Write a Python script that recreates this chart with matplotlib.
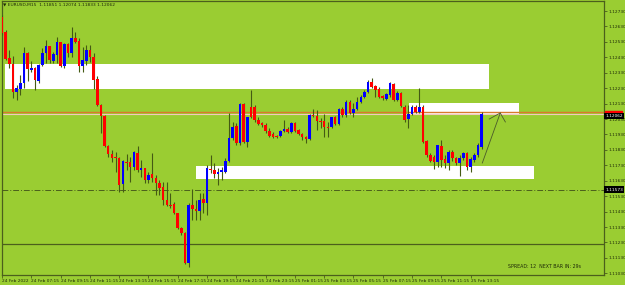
import matplotlib
matplotlib.use('Agg')
import matplotlib.pyplot as plt
import numpy as np

# EURUSD M15, 24-25 Feb 2022, bar 0 = 24 Feb 05:15
opens = [1.12691, 1.12594, 1.12425, 1.12387, 1.12205, 1.12225, 1.12263, 1.12458, 1.12348, 1.12361,
         1.12276, 1.12380, 1.12458, 1.12503, 1.12406, 1.12445, 1.12529, 1.12374, 1.12516, 1.12458,
         1.12555, 1.12536, 1.12374, 1.12406, 1.12477, 1.12432, 1.12289, 1.12121, 1.12050, 1.11855,
         1.11803, 1.11784, 1.11777, 1.11609, 1.11752, 1.11752, 1.11719, 1.11810, 1.11700, 1.11713,
         1.11635, 1.11674, 1.11648, 1.11615, 1.11590, 1.11505, 1.11473, 1.11479, 1.11421, 1.11324,
         1.11292, 1.11097, 1.11473, 1.11447, 1.11434, 1.11512, 1.11486, 1.11706, 1.11700, 1.11674,
         1.11687, 1.11687, 1.11758, 1.11907, 1.11985, 1.11875, 1.12127, 1.11881, 1.12108, 1.12108,
         1.12024, 1.12004, 1.11991, 1.11952, 1.11933, 1.11920, 1.11920, 1.11952, 1.11965, 1.11946,
         1.12004, 1.11959, 1.11933, 1.11913, 1.11901, 1.12056, 1.12050, 1.12017, 1.12017, 1.11978,
         1.11978, 1.12043, 1.11998, 1.12095, 1.12056, 1.12140, 1.12069, 1.12095, 1.12140, 1.12173,
         1.12205, 1.12270, 1.12244, 1.12225, 1.12179, 1.12160, 1.12186, 1.12257, 1.12153, 1.12199,
         1.12108, 1.12030, 1.12062, 1.12108, 1.12075, 1.12108, 1.11888, 1.11797, 1.11784, 1.11752,
         1.11855, 1.11771, 1.11745, 1.11816, 1.11777, 1.11745, 1.11777, 1.11810, 1.11719, 1.11764,
         1.11797, 1.11851]
highs = [1.12704, 1.12607, 1.12477, 1.12438, 1.12250, 1.12315, 1.12497, 1.12464, 1.12406, 1.12367,
         1.12387, 1.12490, 1.12542, 1.12503, 1.12464, 1.12562, 1.12529, 1.12523, 1.12523, 1.12626,
         1.12594, 1.12555, 1.12497, 1.12510, 1.12510, 1.12458, 1.12309, 1.12127, 1.12056, 1.11862,
         1.11829, 1.11816, 1.11784, 1.11764, 1.11803, 1.11784, 1.11823, 1.11855, 1.11764, 1.11713,
         1.11687, 1.11810, 1.11667, 1.11635, 1.11622, 1.11622, 1.11551, 1.11492, 1.11421, 1.11330,
         1.11298, 1.11486, 1.11577, 1.11505, 1.11551, 1.11551, 1.11732, 1.11797, 1.11745, 1.11713,
         1.11719, 1.11777, 1.12069, 1.12011, 1.12004, 1.12134, 1.12134, 1.12043, 1.12218, 1.12121,
         1.12043, 1.12011, 1.12004, 1.11972, 1.11946, 1.11926, 1.11959, 1.12024, 1.11978, 1.12011,
         1.12011, 1.11965, 1.11939, 1.11920, 1.12062, 1.12095, 1.12088, 1.12037, 1.12062, 1.12011,
         1.12043, 1.12050, 1.12101, 1.12108, 1.12153, 1.12153, 1.12134, 1.12173, 1.12186, 1.12218,
         1.12283, 1.12296, 1.12250, 1.12238, 1.12186, 1.12199, 1.12270, 1.12263, 1.12212, 1.12205,
         1.12121, 1.12121, 1.12121, 1.12121, 1.12231, 1.12121, 1.11894, 1.11810, 1.11797, 1.11862,
         1.11894, 1.11797, 1.11829, 1.11829, 1.11784, 1.11797, 1.11816, 1.11816, 1.11784, 1.11810,
         1.11875, 1.12074]
lows = [1.12574, 1.12412, 1.12361, 1.12166, 1.12153, 1.12186, 1.12231, 1.12276, 1.12335, 1.12218,
        1.12263, 1.12374, 1.12393, 1.12393, 1.12393, 1.12393, 1.12367, 1.12361, 1.12432, 1.12432,
        1.12523, 1.12335, 1.12335, 1.12380, 1.12400, 1.12225, 1.12114, 1.11939, 1.11849, 1.11784,
        1.11752, 1.11687, 1.11557, 1.11557, 1.11700, 1.11622, 1.11700, 1.11687, 1.11654, 1.11615,
        1.11615, 1.11622, 1.11538, 1.11538, 1.11473, 1.11466, 1.11453, 1.11415, 1.11317, 1.11278,
        1.11091, 1.11071, 1.11376, 1.11376, 1.11376, 1.11421, 1.11408, 1.11680, 1.11648, 1.11602,
        1.11635, 1.11680, 1.11752, 1.11894, 1.11862, 1.11862, 1.11875, 1.11849, 1.12037, 1.12011,
        1.11991, 1.11978, 1.11939, 1.11913, 1.11907, 1.11907, 1.11913, 1.11946, 1.11939, 1.11939,
        1.11946, 1.11926, 1.11894, 1.11875, 1.11894, 1.12043, 1.11959, 1.11972, 1.11913, 1.11913,
        1.11972, 1.11991, 1.11991, 1.12043, 1.12043, 1.12062, 1.12043, 1.12088, 1.12134, 1.12166,
        1.12199, 1.12231, 1.12173, 1.12166, 1.12153, 1.12153, 1.12173, 1.12147, 1.12147, 1.12108,
        1.12011, 1.11972, 1.12056, 1.12069, 1.12069, 1.11875, 1.11784, 1.11752, 1.11706, 1.11719,
        1.11719, 1.11713, 1.11700, 1.11758, 1.11732, 1.11661, 1.11764, 1.11700, 1.11687, 1.11752,
        1.11784, 1.11833]
closes = [1.12587, 1.12419, 1.12387, 1.12205, 1.12231, 1.12263, 1.12458, 1.12354, 1.12361, 1.12283,
          1.12380, 1.12458, 1.12503, 1.12412, 1.12451, 1.12529, 1.12374, 1.12516, 1.12458, 1.12555,
          1.12529, 1.12374, 1.12412, 1.12477, 1.12432, 1.12283, 1.12121, 1.12050, 1.11855, 1.11803,
          1.11777, 1.11777, 1.11602, 1.11758, 1.11745, 1.11719, 1.11816, 1.11700, 1.11713, 1.11635,
          1.11667, 1.11648, 1.11615, 1.11583, 1.11505, 1.11473, 1.11466, 1.11421, 1.11324, 1.11292,
          1.11097, 1.11473, 1.11447, 1.11434, 1.11505, 1.11486, 1.11713, 1.11700, 1.11674, 1.11687,
          1.11700, 1.11758, 1.11907, 1.11978, 1.11875, 1.12127, 1.11881, 1.12043, 1.12043, 1.12024,
          1.11998, 1.11991, 1.11952, 1.11920, 1.11913, 1.11913, 1.11952, 1.11965, 1.11946, 1.12004,
          1.11952, 1.11933, 1.11913, 1.11901, 1.12056, 1.12050, 1.12017, 1.12011, 1.11978, 1.11972,
          1.12043, 1.11998, 1.12095, 1.12056, 1.12140, 1.12069, 1.12095, 1.12140, 1.12173, 1.12205,
          1.12270, 1.12238, 1.12218, 1.12173, 1.12166, 1.12192, 1.12263, 1.12153, 1.12199, 1.12114,
          1.12024, 1.12062, 1.12108, 1.12075, 1.12108, 1.11881, 1.11797, 1.11758, 1.11752, 1.11862,
          1.11764, 1.11745, 1.11816, 1.11777, 1.11745, 1.11777, 1.11810, 1.11719, 1.11771, 1.11797,
          1.11862, 1.12062]

xlabels = ['24 Feb 2022', '24 Feb 07:15', '24 Feb 09:15', '24 Feb 11:15', '24 Feb 13:15',
           '24 Feb 15:15', '24 Feb 17:15', '24 Feb 19:15', '24 Feb 21:15', '24 Feb 23:15',
           '25 Feb 01:15', '25 Feb 03:15', '25 Feb 05:15', '25 Feb 07:15', '25 Feb 09:15',
           '25 Feb 11:15', '25 Feb 13:15']
xlabel_bars = list(range(0, 129, 8))
yticks = [1.11030 + 0.001 * k for k in range(18)]

# supply / demand zones: (bar from, bar to, price low, price high)
zones = [(0.9, 133.1, 1.12225, 1.12387),
         (111.3, 141.3, 1.12060, 1.12134),
         (53.1, 145.2, 1.11641, 1.11727)]
ask_price = 1.12074
bid_price = 1.12062
level_dashdot = 1.11573
level_solid = 1.11220
arrow_x = [131.2, 136.1]
arrow_y = [1.11745, 1.12069]
wing_x = [133.1, 136.1, 137.5]
wing_y = [1.12030, 1.12069, 1.12011]

bg = '#9acd32'
dark = '#4b5f1c'

fig = plt.figure(figsize=(6.25, 2.85), dpi=100)
fig.patch.set_facecolor(bg)
ax = fig.add_axes([1.7 / 625, 10 / 285, 602.5 / 625, 274 / 285])
ax.set_facecolor(bg)

x = np.arange(len(opens))
o = np.array(opens)
h = np.array(highs)
l = np.array(lows)
c = np.array(closes)
up = c >= o

for x0, x1, lo, hi in zones:
    ax.fill_between([x0, x1], [lo, lo], [hi, hi], color='white', lw=0, zorder=1)

ax.axhline(ask_price, color='#d97a2b', lw=1.0, zorder=2)
ax.axhline(bid_price, color='#f3c9c0', lw=0.8, zorder=2)
ax.axhline(level_dashdot, color=dark, lw=0.7, ls=(0, (6, 2, 1, 2)), zorder=2)
ax.axhline(level_solid, color=dark, lw=0.9, zorder=2)

ax.vlines(x, l, h, color='#445a14', lw=0.8, zorder=3)
body = np.maximum(np.abs(c - o), 0.000012)
ax.bar(x[up], body[up], bottom=np.minimum(o, c)[up], width=0.7, color='#0000ff', lw=0, zorder=4)
ax.bar(x[~up], body[~up], bottom=np.minimum(o, c)[~up], width=0.7, color='#ff0000', lw=0, zorder=4)

ax.plot(arrow_x, arrow_y, color='#4a5a2a', lw=0.6, zorder=5)
ax.plot(wing_x, wing_y, color='#4a5a2a', lw=0.6, zorder=5)

ax.set_xlim(-0.1, 164.5)
ax.set_ylim(1.11019, 1.12795)

for s in ax.spines.values():
    s.set_color(dark)
    s.set_linewidth(0.9)

ax.yaxis.tick_right()
ax.set_yticks(yticks)
ax.set_yticklabels(['%.5f' % v for v in yticks])
ax.tick_params(axis='y', length=2, width=0.6, color=dark, pad=1, labelsize=3.1, labelcolor='#1e2a08')
ax.set_xticks(xlabel_bars)
ax.set_xticklabels(xlabels, ha='left')
ax.tick_params(axis='x', length=2, width=0.6, color=dark, pad=1, labelsize=3.1, labelcolor='#1e2a08')

tr = ax.get_yaxis_transform()
ax.add_patch(plt.Rectangle((1.001, ask_price - 0.00004), 0.028, 0.0001, transform=tr,
                           color='#ff0000', clip_on=False, zorder=6))
ax.text(1.002, bid_price - 0.00010, '%.5f' % bid_price, transform=tr, fontsize=3.1, color='white',
        va='center', ha='left', zorder=7,
        bbox=dict(boxstyle='square,pad=0.25', fc='black', ec='none'))
ax.text(1.002, level_dashdot, '%.5f' % level_dashdot, transform=tr, fontsize=3.1, color='white',
        va='center', ha='left', zorder=7,
        bbox=dict(boxstyle='square,pad=0.25', fc='black', ec='none'))

fig.text(3 / 625, 1 - 5 / 285, '\u25bc EURUSD,M15  1.11851 1.12074 1.11833 1.12062',
         fontsize=3.2, color='#1e2a08', va='center', ha='left')
fig.text(508 / 625, 1 - 267 / 285, 'SPREAD: 12  NEXT BAR IN: 29s',
         fontsize=3.4, color='#1e2a08', va='center', ha='left')

fig.savefig('out.png', dpi=100, facecolor=bg)
